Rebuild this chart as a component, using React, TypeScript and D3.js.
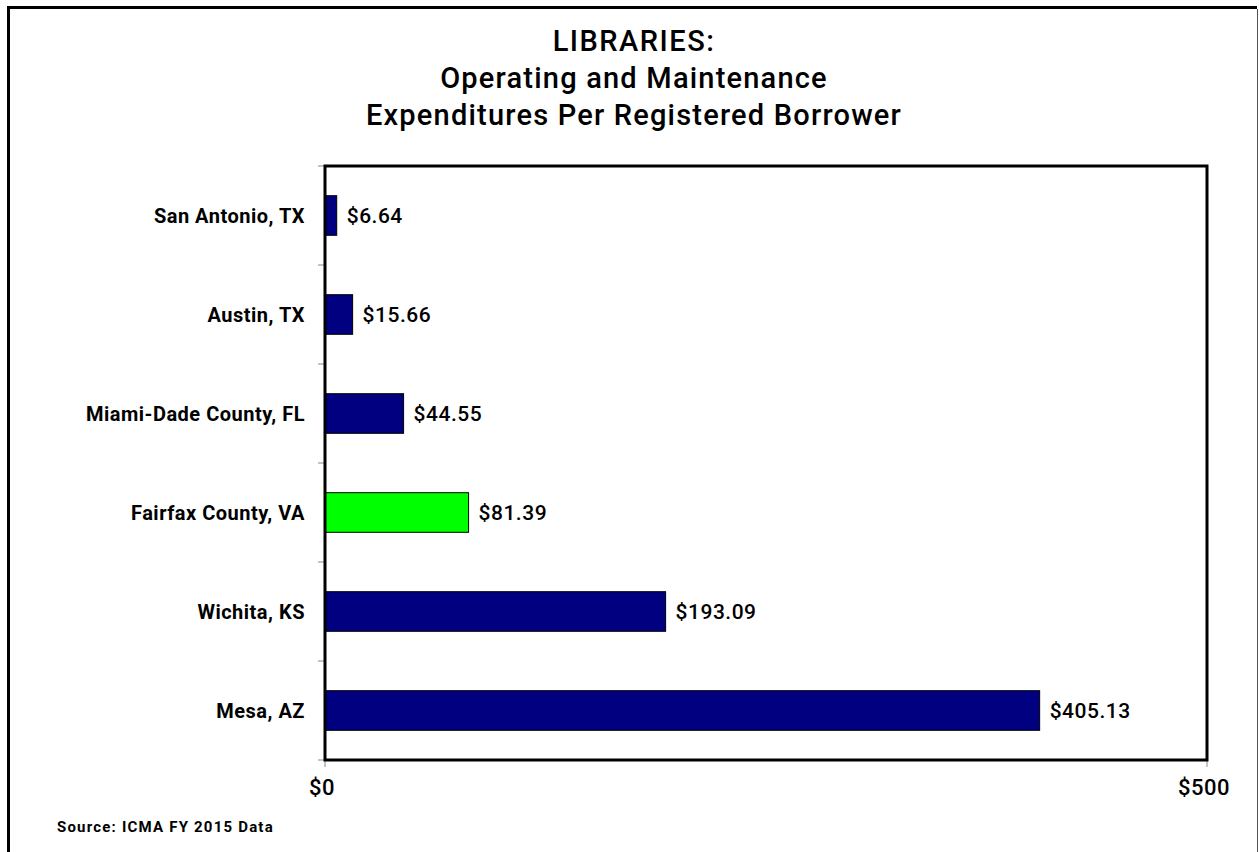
import { useEffect, useRef } from 'react';
import * as d3 from 'd3';

const cities = [
  'San Antonio, TX',
  'Austin, TX',
  'Miami-Dade County, FL',
  'Fairfax County, VA',
  'Wichita, KS',
  'Mesa, AZ',
];
const spending = [6.64, 15.66, 44.55, 81.39, 193.09, 405.13];
const highlight = 'Fairfax County, VA';
const xTicks = [0, 500];
const titleLines = [
  'LIBRARIES:',
  'Operating and Maintenance',
  'Expenditures Per Registered Borrower',
];
const sourceNote = 'Source: ICMA FY 2015 Data';

const FONT = "Roboto, 'Liberation Sans', sans-serif";

export default function App() {
  const ref = useRef<SVGSVGElement>(null);

  useEffect(() => {
    if (!ref.current) return;
    const svg = d3.select(ref.current);
    svg.selectAll('*').remove();

    const width = 1259;
    const height = 852;
    svg.attr('width', width).attr('height', height);

    // plot area
    const left = 325;
    const right = 1207;
    const top = 166;
    const bottom = 760;

    // outer frame: thick top/left, thin right
    svg.append('rect').attr('width', width).attr('height', height).attr('fill', '#fff');
    svg
      .append('path')
      .attr('d', `M8.5,860V7.5H1257`)
      .attr('fill', 'none')
      .attr('stroke', '#000')
      .attr('stroke-width', 3);
    svg
      .append('line')
      .attr('x1', 1257.5)
      .attr('x2', 1257.5)
      .attr('y1', 9)
      .attr('y2', 860)
      .attr('stroke', '#555')
      .attr('stroke-width', 1);

    // title
    svg
      .append('g')
      .selectAll('text')
      .data(titleLines)
      .enter()
      .append('text')
      .attr('x', 634)
      .attr('y', (_, i) => 51 + i * 37)
      .attr('text-anchor', 'middle')
      .attr('font-family', FONT)
      .attr('font-size', 29)
      .attr('font-weight', 500)
      .attr('letter-spacing', (_, i) => (i === 0 ? 1.5 : 1.2))
      .attr('fill', '#000')
      .text((d) => d);

    const x = d3.scaleLinear().domain([0, 500]).range([left, right]);
    const y = d3.scaleBand().domain(cities).range([top, bottom]).paddingInner(0.6).paddingOuter(0.3);

    // category boundary ticks on the left
    const edges = d3.range(cities.length + 1).map((i) => top + (i * (bottom - top)) / cities.length);
    svg
      .append('g')
      .selectAll('line')
      .data(edges)
      .enter()
      .append('line')
      .attr('x1', left - 7)
      .attr('x2', left)
      .attr('y1', (d) => d)
      .attr('y2', (d) => d)
      .attr('stroke', '#888')
      .attr('stroke-width', 1);

    // x ticks
    svg
      .append('g')
      .selectAll('line')
      .data(xTicks)
      .enter()
      .append('line')
      .attr('x1', (d) => x(d))
      .attr('x2', (d) => x(d))
      .attr('y1', bottom)
      .attr('y2', bottom + 7)
      .attr('stroke', '#888')
      .attr('stroke-width', 1);

    svg
      .append('g')
      .selectAll('text')
      .data(xTicks)
      .enter()
      .append('text')
      .attr('x', (d) => x(d) - 3)
      .attr('y', 795)
      .attr('text-anchor', 'middle')
      .attr('font-family', FONT)
      .attr('font-size', 22)
      .attr('font-weight', 500)
      .attr('letter-spacing', 0.5)
      .attr('fill', '#000')
      .text((d) => `$${d}`);

    const rows = cities.map((c, i) => ({ city: c, value: spending[i] }));

    // bars
    svg
      .append('g')
      .selectAll('rect')
      .data(rows)
      .enter()
      .append('rect')
      .attr('x', x(0))
      .attr('y', (d) => y(d.city)!)
      .attr('width', (d) => x(d.value) - x(0))
      .attr('height', y.bandwidth())
      .attr('fill', (d) => (d.city === highlight ? '#00ff00' : '#000080'))
      .attr('stroke', '#000')
      .attr('stroke-width', 1);

    // value labels
    svg
      .append('g')
      .selectAll('text')
      .data(rows)
      .enter()
      .append('text')
      .attr('x', (d) => x(d.value) + 10)
      .attr('y', (d) => y(d.city)! + y.bandwidth() / 2)
      .attr('dy', '0.36em')
      .attr('font-family', FONT)
      .attr('font-size', 21)
      .attr('font-weight', 500)
      .attr('letter-spacing', 0.5)
      .attr('fill', '#000')
      .text((d) => `$${d.value.toFixed(2)}`);

    // category labels
    svg
      .append('g')
      .selectAll('text')
      .data(cities)
      .enter()
      .append('text')
      .attr('x', 305)
      .attr('y', (d) => y(d)! + y.bandwidth() / 2)
      .attr('dy', '0.36em')
      .attr('text-anchor', 'end')
      .attr('font-family', FONT)
      .attr('font-size', 20)
      .attr('font-weight', 'bold')
      .attr('letter-spacing', 0.5)
      .attr('fill', '#000')
      .text((d) => d);

    // plot frame
    svg
      .append('rect')
      .attr('x', left)
      .attr('y', top)
      .attr('width', right - left)
      .attr('height', bottom - top)
      .attr('fill', 'none')
      .attr('stroke', '#000')
      .attr('stroke-width', 3);

    svg
      .append('text')
      .attr('x', 57)
      .attr('y', 832)
      .attr('font-family', FONT)
      .attr('font-size', 15)
      .attr('font-weight', 'bold')
      .attr('letter-spacing', 1.2)
      .attr('fill', '#000')
      .text(sourceNote);
  }, []);

  return <svg ref={ref} style={{ position: 'absolute', left: 0, top: 0 }} />;
}
